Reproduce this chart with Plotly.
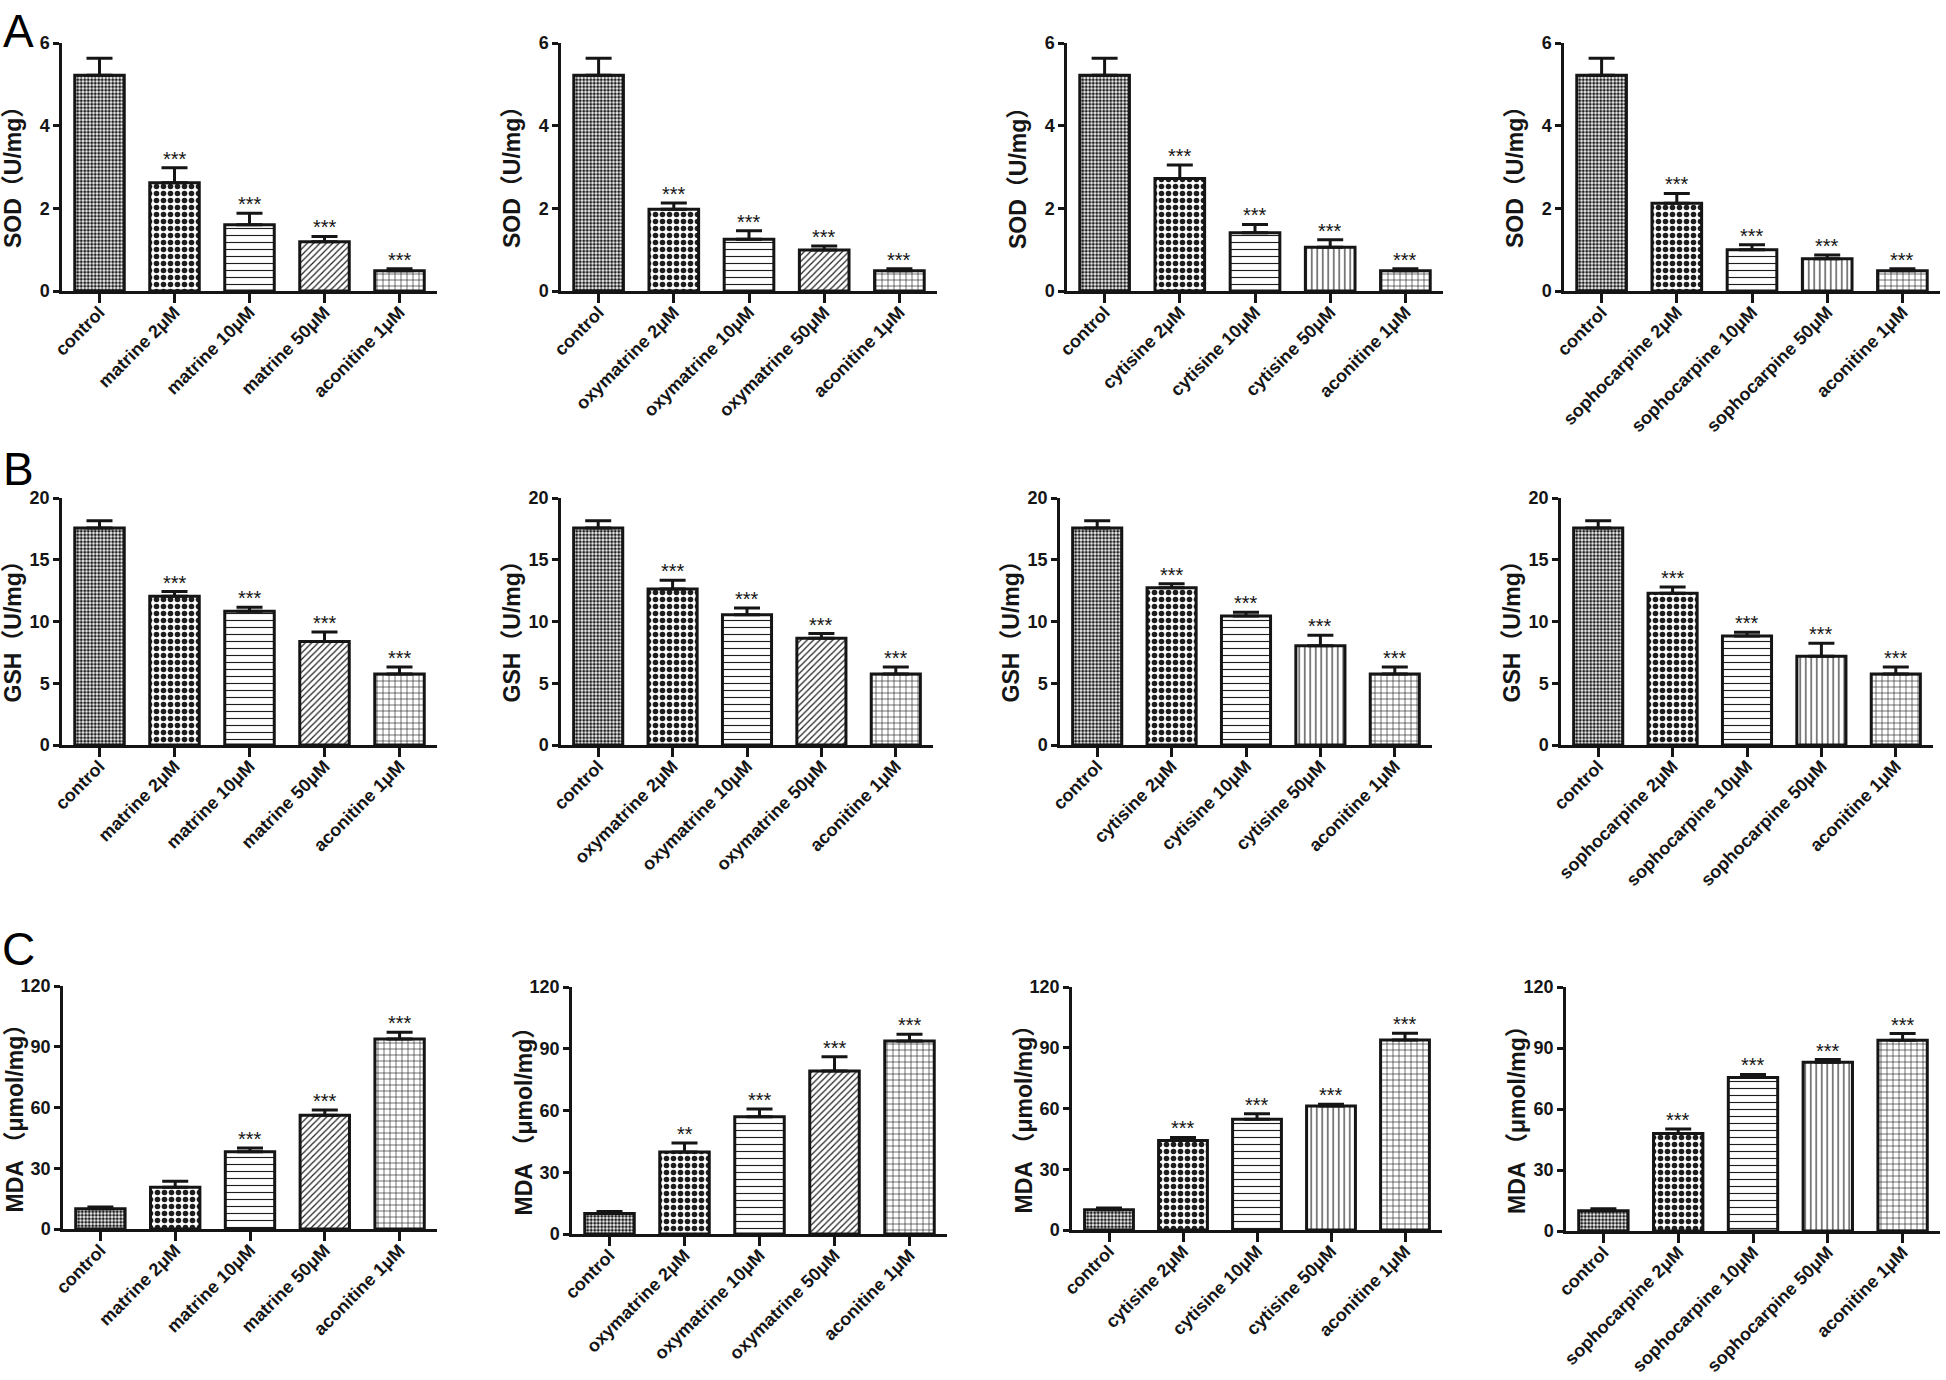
import plotly.graph_objects as go

# ---------------- data ----------------
drugs = ["matrine", "oxymatrine", "cytisine", "sophocarpine"]
cats_matrine = ["control", "matrine 2μM", "matrine 10μM", "matrine 50μM", "aconitine 1μM"]
cats_oxymatrine = ["control", "oxymatrine 2μM", "oxymatrine 10μM", "oxymatrine 50μM", "aconitine 1μM"]
cats_cytisine = ["control", "cytisine 2μM", "cytisine 10μM", "cytisine 50μM", "aconitine 1μM"]
cats_sophocarpine = ["control", "sophocarpine 2μM", "sophocarpine 10μM", "sophocarpine 50μM", "aconitine 1μM"]

sod_matrine = [5.22, 2.62, 1.60, 1.19, 0.49]
sod_matrine_err = [0.41, 0.36, 0.28, 0.13, 0.05]
sod_oxymatrine = [5.22, 1.98, 1.25, 0.99, 0.49]
sod_oxymatrine_err = [0.41, 0.15, 0.21, 0.10, 0.05]
sod_cytisine = [5.22, 2.72, 1.41, 1.06, 0.49]
sod_cytisine_err = [0.41, 0.33, 0.20, 0.18, 0.05]
sod_sophocarpine = [5.22, 2.12, 1.00, 0.78, 0.49]
sod_sophocarpine_err = [0.41, 0.24, 0.12, 0.09, 0.05]

gsh_matrine = [17.57, 12.04, 10.82, 8.39, 5.75]
gsh_matrine_err = [0.59, 0.38, 0.33, 0.76, 0.57]
gsh_oxymatrine = [17.57, 12.63, 10.55, 8.64, 5.75]
gsh_oxymatrine_err = [0.59, 0.70, 0.54, 0.38, 0.57]
gsh_cytisine = [17.57, 12.74, 10.45, 8.04, 5.75]
gsh_cytisine_err = [0.59, 0.32, 0.30, 0.84, 0.57]
gsh_sophocarpine = [17.57, 12.28, 8.83, 7.18, 5.75]
gsh_sophocarpine_err = [0.59, 0.51, 0.30, 1.05, 0.57]

mda_matrine = [10.0, 20.6, 38.2, 56.2, 93.8]
mda_matrine_err = [0.9, 3.0, 1.8, 2.6, 3.3]
mda_oxymatrine = [10.0, 39.8, 57.0, 79.2, 93.8]
mda_oxymatrine_err = [0.9, 4.4, 3.7, 6.9, 3.3]
mda_cytisine = [10.0, 44.2, 54.7, 61.2, 93.8]
mda_cytisine_err = [0.9, 1.5, 2.7, 0.9, 3.3]
mda_sophocarpine = [10.0, 48.0, 75.5, 83.0, 93.8]
mda_sophocarpine_err = [0.9, 2.2, 1.5, 1.3, 3.3]

sig_all = ["", "***", "***", "***", "***"]
sig_mda_matrine = ["", "", "***", "***", "***"]
sig_mda_oxymatrine = ["", "**", "***", "***", "***"]

y_titles = ["SOD（U/mg）", "GSH（U/mg）", "MDA （μmol/mg）"]
y_max = [6, 20, 120]
y_dtick = [2, 5, 30]
panel_letters = ["A", "B", "C"]

# ---------------- assembly ----------------
categories = [cats_matrine, cats_oxymatrine, cats_cytisine, cats_sophocarpine]
values = [
    [sod_matrine, sod_oxymatrine, sod_cytisine, sod_sophocarpine],
    [gsh_matrine, gsh_oxymatrine, gsh_cytisine, gsh_sophocarpine],
    [mda_matrine, mda_oxymatrine, mda_cytisine, mda_sophocarpine],
]
errors = [
    [sod_matrine_err, sod_oxymatrine_err, sod_cytisine_err, sod_sophocarpine_err],
    [gsh_matrine_err, gsh_oxymatrine_err, gsh_cytisine_err, gsh_sophocarpine_err],
    [mda_matrine_err, mda_oxymatrine_err, mda_cytisine_err, mda_sophocarpine_err],
]
sigs = [
    [sig_all] * 4,
    [sig_all] * 4,
    [sig_mda_matrine, sig_mda_oxymatrine, sig_all, sig_all],
]

W, H = 1946, 1380
# pixel boxes of each plotting area: (x0, x1, ytop, ybottom)
boxes = [
    [(62, 437, 43, 291), (561, 937, 43, 291), (1067, 1443, 43, 291), (1564, 1940, 43, 291)],
    [(62, 437, 498, 745), (561, 933, 498, 745), (1060, 1432, 498, 745), (1561, 1933, 498, 745)],
    [(63, 437, 986, 1229), (572, 947, 987, 1234), (1072, 1442, 987, 1230), (1566, 1940, 987, 1231)],
]
letter_y = [3, 469, 949]
letter_anchor = ["top", "middle", "middle"]

# patterns: control fine check, coarse check, horizontal, diagonal/vertical, grid
pat_shapes_ab = [".", ".", "-", "/", "+"]
pat_shapes_cd = [".", ".", "-", "|", "+"]
pat_sizes = [3.5, 7, 7, 4.5, 6]
pat_sizes_cd = [3.5, 7, 7, 5.5, 6]
pat_sol = [0.58, 0.5, 0.16, 0.26, 0.2]
pat_sol_cd = [0.58, 0.5, 0.16, 0.2, 0.2]

FONT = "Liberation Sans, Arial, Noto Sans CJK SC, sans-serif"
INK = "#151515"

fig = go.Figure()
annotations = []
layout = {}
k = 0
for r in range(3):
    for c in range(4):
        k += 1
        sfx = "" if k == 1 else str(k)
        x0, x1, yt, yb = boxes[r][c]
        shapes = pat_shapes_ab if c < 2 else pat_shapes_cd
        sizes = pat_sizes if c < 2 else pat_sizes_cd
        sols = pat_sol if c < 2 else pat_sol_cd
        vals = values[r][c]
        errs = errors[r][c]
        fig.add_trace(go.Bar(
            x=categories[c], y=vals, xaxis="x" + sfx, yaxis="y" + sfx,
            width=0.66,
            marker=dict(
                color="white",
                line=dict(color=INK, width=3),
                pattern=dict(shape=shapes, size=sizes, solidity=sols,
                             fgcolor="#1e1e1e", bgcolor="white", fillmode="replace"),
            ),
            error_y=dict(type="data", symmetric=False, array=errs,
                         arrayminus=[0] * len(errs), thickness=3, width=13, color=INK),
            showlegend=False, hoverinfo="skip",
        ))
        layout["xaxis" + sfx] = dict(
            domain=[x0 / W, x1 / W], anchor="y" + sfx, type="category",
            range=[-0.5, 4.5], showline=True, linecolor=INK, linewidth=2.5,
            ticks="outside", ticklen=9, tickwidth=2.5, tickcolor=INK,
            tickangle=-45, showgrid=False, zeroline=False, fixedrange=True,
            automargin=False, ticklabelstandoff=-8,
            tickfont=dict(family=FONT, size=18, color=INK, weight="bold"),
        )
        layout["yaxis" + sfx] = dict(
            domain=[1 - yb / H, 1 - yt / H], anchor="x" + sfx,
            range=[0, y_max[r]], dtick=y_dtick[r], tick0=0,
            showline=True, linecolor=INK, linewidth=2.5,
            ticks="outside", ticklen=6, tickwidth=2.5, tickcolor=INK,
            showgrid=False, zeroline=False, fixedrange=True,
            automargin=False,
            tickfont=dict(family=FONT, size=18, color=INK, weight="bold"),
        )
        # significance stars
        for i, s in enumerate(sigs[r][c]):
            if s:
                annotations.append(dict(
                    x=categories[c][i], y=vals[i] + errs[i],
                    xref="x" + sfx, yref="y" + sfx,
                    text=s, showarrow=False, xanchor="center", yanchor="bottom",
                    yshift=-4, font=dict(family=FONT, size=20, color=INK),
                ))
        # y axis title
        annotations.append(dict(
            x=(x0 - 49) / W, y=1 - ((yt + yb) / 2 + 5) / H,
            xref="paper", yref="paper", text=y_titles[r], textangle=-90,
            showarrow=False, xanchor="center", yanchor="middle",
            font=dict(family=FONT, size=23, color=INK, weight="bold"),
        ))
    annotations.append(dict(
        x=18 / W, y=1 - letter_y[r] / H, xref="paper", yref="paper",
        text=panel_letters[r], showarrow=False, xanchor="center", yanchor=letter_anchor[r],
        font=dict(family=FONT, size=46, color="#000"),
    ))

fig.update_layout(
    template="none",
    width=W, height=H, margin=dict(l=0, r=0, t=0, b=0, autoexpand=False),
    paper_bgcolor="white", plot_bgcolor="white",
    annotations=annotations, bargap=0.3,
    **layout,
)

fig.write_html(
    "out.html",
    config={"displayModeBar": False},
    post_script="document.body.style.margin='0';document.body.style.overflow='hidden';",
)
